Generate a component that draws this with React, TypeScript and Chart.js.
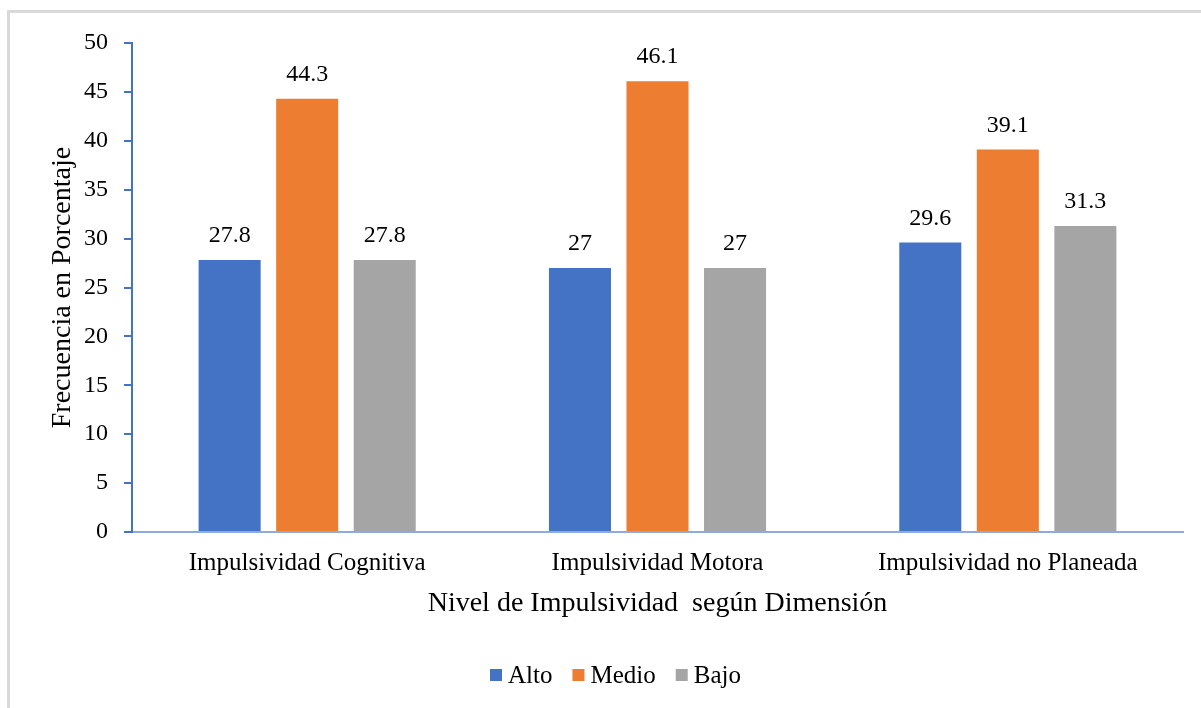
import React, { useEffect, useRef } from "react";
import { Chart, registerables } from "chart.js";

Chart.register(...registerables);

const categories = ["Impulsividad Cognitiva", "Impulsividad Motora", "Impulsividad no Planeada"];
const seriesNames = ["Alto", "Medio", "Bajo"];
const alto = [27.8, 27, 29.6];
const medio = [44.3, 46.1, 39.1];
const bajo = [27.8, 27, 31.3];
const colors = ["#4472C4", "#ED7D31", "#A5A5A5"];
const yTitle = "Frecuencia en Porcentaje";
const xTitle = "Nivel de Impulsividad  según Dimensión";

const FONT = "'Liberation Serif', 'Times New Roman', serif";

const overlayPlugin = {
  id: "overlay",
  afterDatasetsDraw(chart: any) {
    const ctx = chart.ctx;
    const area = chart.chartArea;
    ctx.save();
    // data labels
    ctx.fillStyle = "#000";
    ctx.font = `24px ${FONT}`;
    ctx.textAlign = "center";
    ctx.textBaseline = "alphabetic";
    chart.data.datasets.forEach((ds: any, i: number) => {
      const meta = chart.getDatasetMeta(i);
      meta.data.forEach((el: any, j: number) => {
        ctx.fillText(String(ds.data[j]), el.x, el.y - 18);
      });
    });
    // y title
    ctx.font = `28px ${FONT}`;
    ctx.textBaseline = "middle";
    ctx.save();
    ctx.translate(63, (area.top + area.bottom) / 2);
    ctx.rotate(-Math.PI / 2);
    ctx.fillText(yTitle, 0, 0);
    ctx.restore();
    // x title
    ctx.fillText(xTitle, (area.left + area.right) / 2, 604);
    // legend
    ctx.font = `25px ${FONT}`;
    ctx.textAlign = "left";
    let x = 490;
    const ly = 675;
    seriesNames.forEach((name, i) => {
      ctx.fillStyle = colors[i];
      ctx.fillRect(x, ly - 6, 12, 12);
      x += 18;
      ctx.fillStyle = "#000";
      ctx.fillText(name, x, ly + 1);
      x += ctx.measureText(name).width + 20;
    });
    ctx.restore();
  },
};

export default function App() {
  const ref = useRef<HTMLCanvasElement>(null);
  useEffect(() => {
    if (!ref.current) return;
    const chart = new Chart(ref.current, {
      type: "bar",
      data: {
        labels: categories,
        datasets: [
          { label: seriesNames[0], data: alto, backgroundColor: colors[0] },
          { label: seriesNames[1], data: medio, backgroundColor: colors[1] },
          { label: seriesNames[2], data: bajo, backgroundColor: colors[2] },
        ],
      },
      options: {
        responsive: false,
        animation: false,
        devicePixelRatio: 1,
        layout: { padding: { left: 0, right: 18, top: 43, bottom: 0 } },
        datasets: { bar: { categoryPercentage: 0.664, barPercentage: 0.8 } },
        plugins: { legend: { display: false }, tooltip: { enabled: false } },
        scales: {
          x: {
            grid: { display: false, drawTicks: false },
            border: { display: true, color: "#8FAADC", width: 2 },
            ticks: { color: "#000", font: { family: FONT, size: 25 }, padding: 16, maxRotation: 0 },
            afterFit(scale: any) {
              scale.height = 708 - 532;
            },
          },
          y: {
            min: 0,
            max: 50,
            ticks: { stepSize: 5, color: "#000", font: { family: FONT, size: 24 }, padding: 16 },
            grid: { drawOnChartArea: false, drawTicks: true, tickLength: 8, color: "#4472C4", lineWidth: 2 },
            border: { display: true, color: "#4472C4", width: 2 },
            afterFit(scale: any) {
              scale.width = 132;
            },
          },
        },
      },
      plugins: [overlayPlugin],
    });
    return () => chart.destroy();
  }, []);
  return (
    <div style={{ position: "fixed", left: 0, top: 0, width: 1201, height: 708, background: "#fff" }}>
      <div
        style={{
          position: "absolute",
          left: 7,
          top: 10,
          width: 1300,
          height: 800,
          borderTop: "3px solid #d9d9d9",
          borderLeft: "3px solid #d9d9d9",
        }}
      />
      <canvas ref={ref} width={1201} height={708} style={{ position: "absolute", left: 0, top: 0, width: 1201, height: 708 }} />
    </div>
  );
}
